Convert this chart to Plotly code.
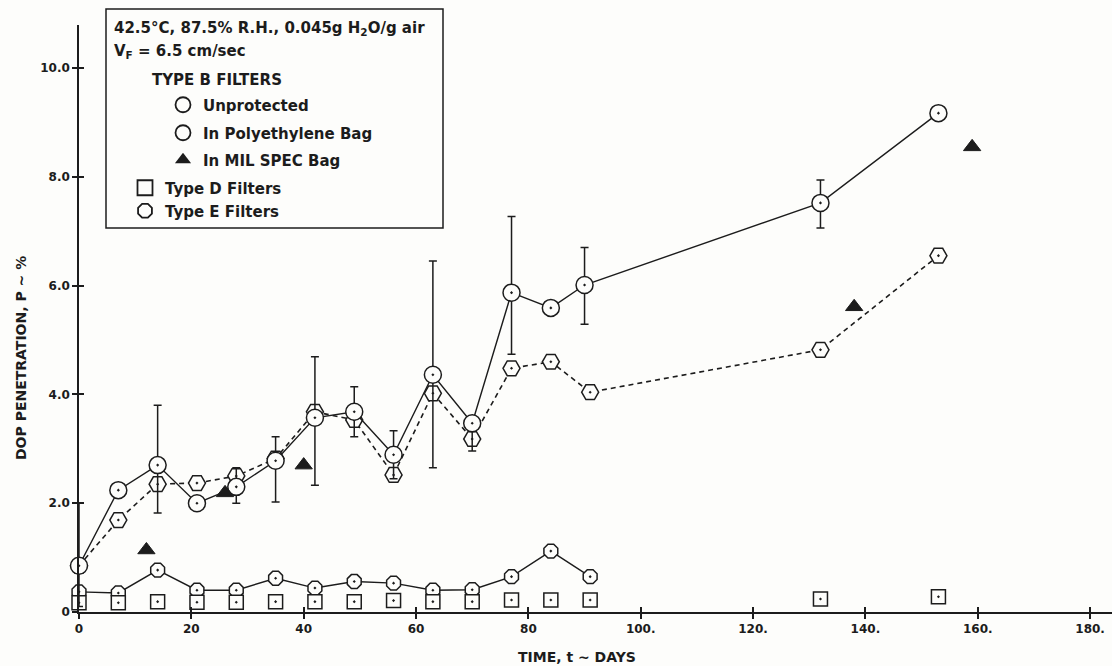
import plotly.graph_objects as go

# ---- data: exposure time (days) vs DOP penetration (%) ----
days_unprot = [0, 7, 14, 21, 28, 35, 42, 49, 56, 63, 70, 77, 84, 90, 132, 153]
pen_unprot = [0.85, 2.24, 2.70, 2.00, 2.30, 2.78, 3.57, 3.68, 2.89, 4.36, 3.47, 5.87, 5.59, 6.01, 7.52, 9.17]
# spread of replicate readings for the unprotected filters (None = single reading)
hi_unprot = [2.00, None, 3.80, None, 2.65, 3.22, 4.69, 4.14, 3.33, 6.45, 3.60, 7.27, None, 6.70, 7.94, None]
lo_unprot = [0.10, None, 1.82, None, 2.00, 2.02, 2.33, 3.22, 2.45, 2.65, 2.96, 4.74, None, 5.29, 7.06, None]

days_poly = [0, 7, 14, 21, 28, 35, 42, 49, 56, 63, 70, 77, 84, 91, 132, 153]
pen_poly = [0.85, 1.69, 2.35, 2.37, 2.50, 2.82, 3.68, 3.53, 2.52, 4.02, 3.18, 4.48, 4.60, 4.04, 4.82, 6.55]

days_milspec = [12, 26, 40, 138, 159]
pen_milspec = [1.14, 2.19, 2.70, 5.61, 8.55]

days_type_d = [0, 7, 14, 21, 28, 35, 42, 49, 56, 63, 70, 77, 84, 91, 132, 153]
pen_type_d = [0.17, 0.17, 0.19, 0.18, 0.18, 0.19, 0.19, 0.19, 0.21, 0.19, 0.19, 0.22, 0.22, 0.22, 0.24, 0.28]

days_type_e = [0, 7, 14, 21, 28, 35, 42, 49, 56, 63, 70, 77, 84, 91]
pen_type_e = [0.37, 0.35, 0.77, 0.40, 0.40, 0.62, 0.44, 0.56, 0.53, 0.40, 0.41, 0.65, 1.12, 0.65]

x_ticks = [0, 20, 40, 60, 80, 100, 120, 140, 160, 180]
x_tick_text = ["0", "20", "40", "60", "80", "100.", "120.", "140.", "160.", "180."]
y_ticks = [0, 2, 4, 6, 8, 10]
y_tick_text = ["0", "2.0", "4.0", "6.0", "8.0", "10.0"]

# ---- styling ----
W, H = 1112, 666
INK = "#1c1c1c"
BG = "#fdfdfb"
FONT = "DejaVu Sans"
ML, MR, MT, MB = 79, 0, 25, 54
X_RANGE = [0, 183.9]
Y_RANGE = [0, 10.79]

err_plus = [(h - v) if h is not None else 0 for h, v in zip(hi_unprot, pen_unprot)]
err_minus = [(v - l) if l is not None else 0 for l, v in zip(lo_unprot, pen_unprot)]

fig = go.Figure()

# Type E filters
fig.add_trace(go.Scatter(
    x=days_type_e, y=pen_type_e, mode="lines+markers", cliponaxis=False, showlegend=False,
    line=dict(color=INK, width=1.4),
    marker=dict(symbol="octagon-dot", size=15, color=BG, line=dict(color=INK, width=1.5)),
))
# Type D filters
fig.add_trace(go.Scatter(
    x=days_type_d, y=pen_type_d, mode="markers", cliponaxis=False, showlegend=False,
    marker=dict(symbol="square-dot", size=14, color=BG, line=dict(color=INK, width=1.5)),
))
# Type B, in polyethylene bag
fig.add_trace(go.Scatter(
    x=days_poly, y=pen_poly, mode="lines+markers", cliponaxis=False, showlegend=False,
    line=dict(color=INK, width=1.6, dash="5px,4px"),
    marker=dict(symbol="hexagon2-dot", size=17, color=BG, line=dict(color=INK, width=1.5)),
))
# Type B, unprotected (with replicate spread)
fig.add_trace(go.Scatter(
    x=days_unprot, y=pen_unprot, mode="lines+markers", cliponaxis=False, showlegend=False,
    line=dict(color=INK, width=1.4),
    error_y=dict(type="data", symmetric=False, array=err_plus, arrayminus=err_minus,
                 color=INK, thickness=1.5, width=4),
    marker=dict(symbol="circle-dot", size=17, color=BG, line=dict(color=INK, width=1.5)),
))
# Type B, in MIL SPEC bag
fig.add_trace(go.Scatter(
    x=days_milspec, y=pen_milspec, mode="markers", cliponaxis=False, showlegend=False,
    marker=dict(symbol="triangle-up", size=15, color=INK, line=dict(color=INK, width=1)),
))

# axis carrying the inward half of the crossing tick marks
fig.add_trace(go.Scatter(x=[None], y=[None], xaxis="x2", yaxis="y2", showlegend=False,
                         hoverinfo="skip"))

# legend key entries
legend_entries = [
    ("Unprotected", dict(symbol="circle-open", size=15, color=INK, line=dict(width=1.8)), "legend", 183, 105),
    ("In Polyethylene Bag", dict(symbol="circle-open", size=15, color=INK, line=dict(width=1.8)), "legend2", 183, 133),
    ("In MIL SPEC Bag", dict(symbol="triangle-up", size=14, color=INK), "legend3", 183, 160),
    ("Type D Filters", dict(symbol="square-open", size=15, color=INK, line=dict(width=1.8)), "legend4", 145, 188),
    ("Type E Filters", dict(symbol="octagon-open", size=15, color=INK, line=dict(width=1.8)), "legend5", 145, 211),
]
legend_layouts = {}
for name, mk, lg, px, py in legend_entries:
    fig.add_trace(go.Scatter(x=[None], y=[None], mode="markers", marker=mk, name=name,
                             legend=lg, showlegend=True))
    legend_layouts[lg] = dict(
        x=(px - 20) / W, y=1 - py / H, xref="container", yref="container",
        xanchor="left", yanchor="middle", bgcolor="rgba(0,0,0,0)", borderwidth=0,
        font=dict(family=FONT, size=15, color=INK, weight="bold"),
    )


def px_to_paper(px, py):
    pw = W - ML - MR
    ph = H - MT - MB
    return (px - ML) / pw, (H - MB - py) / ph


axis_common = dict(
    showgrid=False, zeroline=False, showline=True, linecolor=INK, linewidth=1.5,
    ticks="outside", ticklen=5, tickwidth=1.5, tickcolor=INK, automargin=False,
    tickfont=dict(family=FONT, size=12, color=INK, weight="bold"),
)

bx0, by0 = px_to_paper(106, 228)
bx1, by1 = px_to_paper(443, 9)
h1x, h1y = px_to_paper(112, 28)
h2x, h2y = px_to_paper(112, 51)
h3x, h3y = px_to_paper(150, 80)
xtx, xty = px_to_paper(577, 657)
ytx, yty = px_to_paper(21, 358)

title_font = dict(family=FONT, size=14, color=INK, weight="bold")
key_font = dict(family=FONT, size=15, color=INK, weight="bold")

fig.update_layout(
    width=W, height=H,
    margin=dict(l=ML, r=MR, t=MT, b=MB, autoexpand=False),
    paper_bgcolor=BG, plot_bgcolor=BG,
    xaxis=dict(range=X_RANGE, tickvals=x_ticks, ticktext=x_tick_text, **axis_common),
    yaxis=dict(range=Y_RANGE, tickvals=y_ticks, ticktext=y_tick_text, **axis_common),
    xaxis2=dict(range=X_RANGE, overlaying="x", anchor="y2", tickvals=x_ticks, ticks="inside",
                ticklen=5, tickwidth=1.5, tickcolor=INK, showticklabels=False,
                showgrid=False, zeroline=False, showline=False),
    yaxis2=dict(range=Y_RANGE, overlaying="y", anchor="x2", side="left", tickvals=y_ticks,
                ticks="inside", ticklen=5, tickwidth=1.5, tickcolor=INK, showticklabels=False,
                showgrid=False, zeroline=False, showline=False),
    showlegend=True,
    shapes=[dict(type="rect", xref="paper", yref="paper", x0=bx0, y0=by0, x1=bx1, y1=by1,
                 line=dict(color=INK, width=1.5), fillcolor="rgba(0,0,0,0)", layer="above")],
    annotations=[
        dict(text="42.5°C, 87.5% R.H., 0.045g H<sub>2</sub>O/g air", x=h1x, y=h1y,
             xref="paper", yref="paper", xanchor="left", yanchor="middle", showarrow=False,
             font=key_font),
        dict(text="V<sub>F</sub> = 6.5 cm/sec", x=h2x, y=h2y,
             xref="paper", yref="paper", xanchor="left", yanchor="middle", showarrow=False,
             font=key_font),
        dict(text="TYPE B FILTERS", x=h3x, y=h3y,
             xref="paper", yref="paper", xanchor="left", yanchor="middle", showarrow=False,
             font=key_font),
        dict(text="TIME, t ~ DAYS", x=xtx, y=xty, xref="paper", yref="paper",
             xanchor="center", yanchor="middle", showarrow=False, font=title_font),
        dict(text="DOP PENETRATION, P ~ %", x=ytx, y=yty, xref="paper", yref="paper",
             xanchor="center", yanchor="middle", showarrow=False, textangle=-90,
             font=title_font),
    ],
    **legend_layouts,
)

fig.write_html("out.html")
